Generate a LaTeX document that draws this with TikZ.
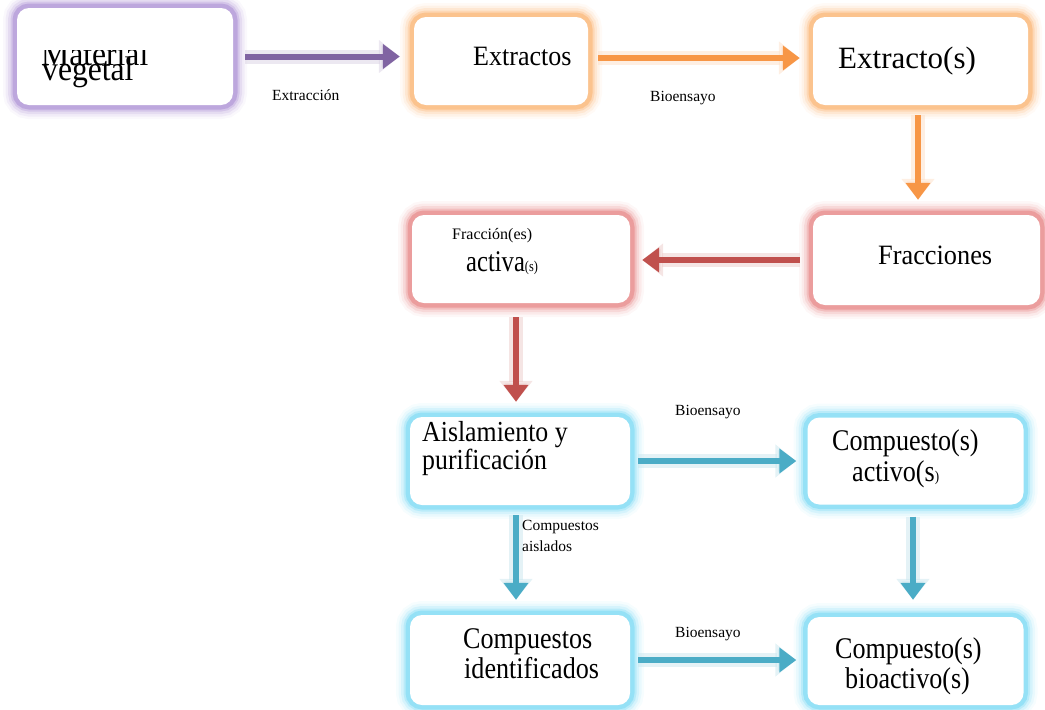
\documentclass[tikz,border=0pt]{standalone}
\usepackage{fontspec}
\setmainfont{Liberation Serif}
\usetikzlibrary{arrows.meta}

\definecolor{purpleA}{HTML}{8064A2}
\definecolor{purpleG}{HTML}{B49AD8}
\definecolor{orangeA}{HTML}{F79646}
\definecolor{orangeG}{HTML}{FBBA7E}
\definecolor{redA}{HTML}{C0504D}
\definecolor{redG}{HTML}{E88F8F}
\definecolor{blueA}{HTML}{4BACC6}
\definecolor{blueG}{HTML}{86DDF5}

\newcommand{\fsz}[1]{\fontsize{#1}{#1}\selectfont}
\newcommand{\narrow}[2]{\scalebox{#1}[1]{#2}}

\tikzset{
  glowbox/.style={rounded corners=12pt, fill=white, inner sep=0pt,
    preaction={draw=#1, line width=28pt, opacity=0.07},
    preaction={draw=#1, line width=23pt, opacity=0.12},
    preaction={draw=#1, line width=18pt, opacity=0.2},
    preaction={draw=#1, line width=13pt, opacity=0.35},
    preaction={draw=#1, line width=9pt, opacity=0.7}},
  flow/.style={draw=#1, line width=6pt, -{Triangle[length=17pt,width=24pt]},
    preaction={draw=#1!30, line width=14pt, opacity=0.5,
      -{Triangle[length=21pt,width=32pt]}}},
  txt/.style={anchor=base west, inner sep=0pt, font=\fsz{#1}},
  lbl/.style={anchor=base west, inner sep=0pt, font=\fsz{15.5}},
}

\begin{document}
\begin{tikzpicture}[x=1pt, y=-1pt]
\useasboundingbox (0,0) rectangle (1045,710);

% boxes
\node[glowbox=purpleG, minimum width=216pt, minimum height=97pt] (mv) at (125,56.5) {};
\node[glowbox=orangeG, minimum width=174pt, minimum height=88pt] (ex) at (501,61) {};
\node[glowbox=orangeG, minimum width=215pt, minimum height=88pt] (exs) at (920.5,61) {};
\node[glowbox=redG, minimum width=227pt, minimum height=90pt] (fr) at (926.5,260) {};
\node[glowbox=redG, minimum width=218pt, minimum height=88pt] (fa) at (521,259) {};
\node[glowbox=blueG, minimum width=220pt, minimum height=88pt] (ap) at (520,461) {};
\node[glowbox=blueG, minimum width=216pt, minimum height=87pt] (ca) at (915.5,461) {};
\node[glowbox=blueG, minimum width=220pt, minimum height=90pt] (ci) at (520,660) {};
\node[glowbox=blueG, minimum width=216pt, minimum height=88pt] (cb) at (915.5,661) {};

% connectors
\draw[flow=purpleA, shorten <=12pt, shorten >=14pt] (mv.east) -- (mv.east -| ex.west);
\draw[flow=orangeA, shorten <=10pt, shorten >=13pt] ([yshift=3pt]ex.east) -- ([yshift=3pt]exs.west);
\draw[flow=orangeA, shorten <=10pt, shorten >=15pt] ([xshift=-2.5pt]exs.south) -- ([xshift=-2.5pt]exs.south |- fr.north);
\draw[flow=redA, shorten <=13pt, shorten >=12pt] (fr.west) -- (fr.west -| fa.east);
\draw[flow=redA, shorten <=14pt, shorten >=15pt] ([xshift=-5pt]fa.south) -- ([xshift=-5pt]fa.south |- ap.north);
\draw[flow=blueA, shorten <=8pt, shorten >=11pt] (ap.east) -- (ap.east -| ca.west);
\draw[flow=blueA, shorten <=10pt, shorten >=15pt] ([xshift=-4pt]ap.south) -- ([xshift=-4pt]ap.south |- ci.north);
\draw[flow=blueA, shorten <=12pt, shorten >=17pt] ([xshift=-2.5pt]ca.south) -- ([xshift=-2.5pt]ca.south |- cb.north);
\draw[flow=blueA, shorten <=8pt, shorten >=11pt] (ci.east) -- (ci.east -| cb.west);

% box texts
\begin{scope}
  \clip (30,50) rectangle (200,100);
  \node[txt=34] (mv1) at (41,65) {\narrow{0.93}{Material}};
\end{scope}
\node[txt=34] (mv2) at (42,80) {\narrow{0.93}{vegetal}};
\node[txt=28] (ext) at (473,65) {\narrow{0.93}{Extractos}};
\node[txt=31] (exst) at (838,68) {Extracto(s)};
\node[txt=28] (frt) at (878,264) {\narrow{0.94}{Fracciones}};
\node[txt=16] (fa1) at (452,239) {Fracción(es)};
\node[txt=30] (fa2) at (466,271) {\narrow{0.82}{activa{\fsz{15}(s)}}};
\node[txt=29] (ap1) at (422,441) {\narrow{0.89}{Aislamiento y}};
\node[txt=29] (ap2) at (422,469) {\narrow{0.89}{purificación}};
\node[txt=30] (ca1) at (832,450) {\narrow{0.87}{Compuesto(s)}};
\node[txt=30] (ca2) at (852,481) {\narrow{0.87}{activo(s{\fsz{15})}}};
\node[txt=30] (ci1) at (463,648) {\narrow{0.87}{Compuestos}};
\node[txt=30] (ci2) at (464,678) {\narrow{0.87}{identificados}};
\node[txt=30] (cb1) at (835,658) {\narrow{0.87}{Compuesto(s)}};
\node[txt=30] (cb2) at (845,688) {\narrow{0.87}{bioactivo(s)}};

% connector labels
\node[lbl] (l1) at (272,100) {Extracción};
\node[lbl] (l2) at (650,101) {Bioensayo};
\node[lbl] (l3) at (675,415) {Bioensayo};
\node[lbl] (l4) at (675,637) {Bioensayo};
\node[lbl] (l5) at (522,530) {Compuestos};
\node[lbl] (l6) at (522,551) {aislados};
\end{tikzpicture}
\end{document}
